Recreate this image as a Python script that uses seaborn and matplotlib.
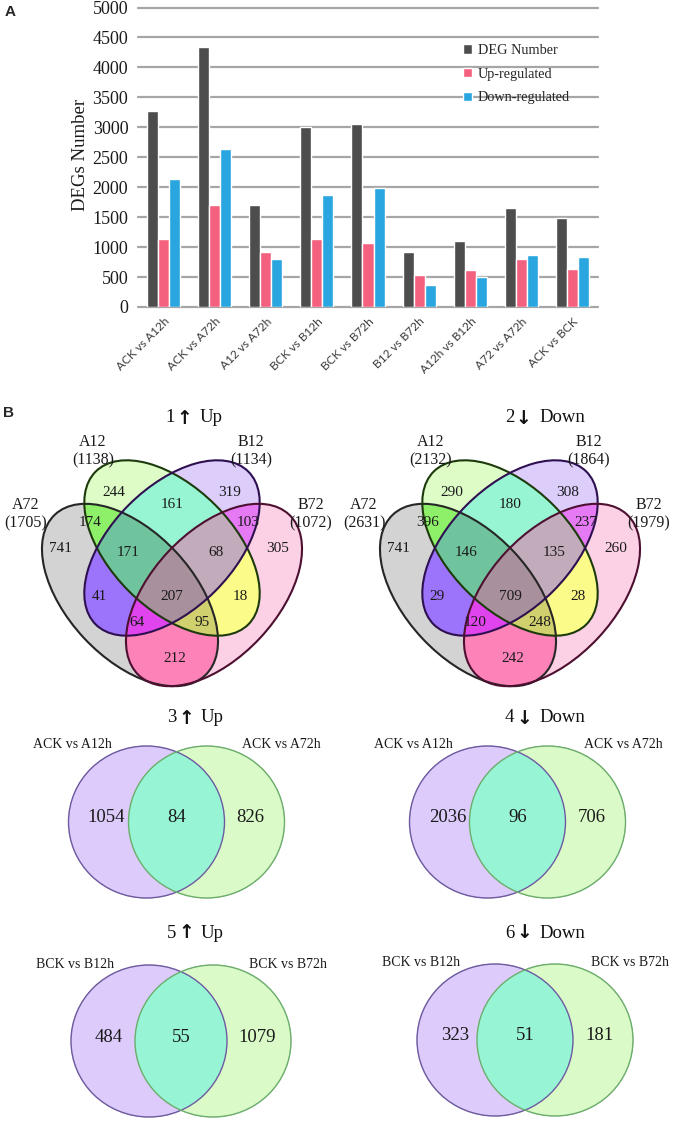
import numpy as np
import pandas as pd
import matplotlib
matplotlib.use('Agg')
import matplotlib.pyplot as plt
from matplotlib.patches import Ellipse
from matplotlib.colors import to_rgba
from matplotlib.transforms import ScaledTranslation
import seaborn as sns

# ---------------- panel A data ----------------
comparisons = ['ACK vs A12h', 'ACK vs A72h', 'A12 vs A72h', 'BCK vs B12h', 'BCK vs B72h',
               'B12 vs B72h', 'A12h vs B12h', 'A72 vs A72h', 'ACK vs BCK']
deg_number = [3270, 4336, 1700, 2998, 3051, 910, 1110, 1660, 1480]
up_regulated = [1138, 1705, 910, 1134, 1072, 540, 620, 800, 630]
down_regulated = [2132, 2631, 800, 1864, 1979, 370, 500, 860, 840]
series_names = ['DEG Number', 'Up-regulated', 'Down-regulated']
series_colors = ['#4d4d4d', '#f3617f', '#29a6df']

# ---------------- panel B data: four-set Venns ----------------
four_sets = ['A72', 'A12', 'B12', 'B72']
up_set_totals = [1705, 1138, 1134, 1072]
down_set_totals = [2631, 2132, 1864, 1979]
# membership of each region in (A72, A12, B12, B72)
regions = [(1, 0, 0, 0), (0, 1, 0, 0), (0, 0, 1, 0), (0, 0, 0, 1),
           (1, 1, 0, 0), (0, 1, 1, 0), (0, 0, 1, 1),
           (1, 1, 1, 0), (0, 1, 1, 1),
           (1, 0, 1, 0), (1, 1, 1, 1), (0, 1, 0, 1),
           (1, 0, 1, 1), (1, 1, 0, 1), (1, 0, 0, 1)]
up_counts = [741, 244, 319, 305, 174, 161, 103, 171, 68, 41, 207, 18, 64, 95, 212]
down_counts = [741, 290, 308, 260, 396, 180, 237, 146, 135, 29, 709, 28, 120, 248, 242]

# ---------------- panel B data: two-set Venns ----------------
pair_numbers = ['3', '4', '5', '6']
pair_dirs = ['Up', 'Down', 'Up', 'Down']
pair_left = ['ACK vs A12h', 'ACK vs A12h', 'BCK vs B12h', 'BCK vs B12h']
pair_right = ['ACK vs A72h', 'ACK vs A72h', 'BCK vs B72h', 'BCK vs B72h']
pair_only_left = [1054, 2036, 484, 323]
pair_shared = [84, 96, 55, 51]
pair_only_right = [826, 706, 1079, 181]

# ---------------- layout / style ----------------
W, H = 675, 1121
serif = ['Liberation Serif', 'DejaVu Serif']
region_colors = {
    (1, 0, 0, 0): '#d4d4d4', (0, 1, 0, 0): '#ddfcc6', (0, 0, 1, 0): '#dccdfb', (0, 0, 0, 1): '#fdd2e6',
    (1, 1, 0, 0): '#8ef06a', (0, 1, 1, 0): '#98f5d4', (0, 0, 1, 1): '#e57af4',
    (1, 1, 1, 0): '#70c49d', (0, 1, 1, 1): '#c2abbb',
    (1, 0, 1, 0): '#9c74fb', (1, 1, 1, 1): '#a8919c', (0, 1, 0, 1): '#fbfb8a',
    (1, 0, 1, 1): '#e044ee', (1, 1, 0, 1): '#d2d06e', (1, 0, 0, 1): '#fd82b9',
}
# ellipse shapes relative to the venn centre: dx, dy, semi-axis a, semi-axis b, angle
quad_shapes = [(-42, 47, 110, 63, 47), (0, 0, 108, 61, 45), (0, 0, 108, 61, -45), (42, 47, 110, 63, -47)]
quad_edges = ['#262626', '#1d3a0c', '#2e1050', '#4d1030']
region_offsets = [(-112, 0), (-58, -55), (58, -55), (106, 0),
                  (-82, -26), (0, -43), (76, -26),
                  (-44, 4), (44, 4),
                  (-73, 48), (0, 48), (68, 48),
                  (-35, 74), (30, 74), (3, 110)]
set_label_dx = [-146, -79, 79, 139]
set_label_dy = [-43, -106, -106, -43]
quad_centres = [(172, 548), (510, 548)]

pair_centres = [((146.5, 822), (206.5, 822)), ((487.5, 822), (547.5, 822)),
                ((149, 1041), (213, 1041)), ((495, 1040), (555, 1040))]
pair_w, pair_h = 156, 152
pair_colors = {(1, 0): '#dccbfb', (0, 1): '#dafbc9', (1, 1): '#97f5d6'}
pair_edges = ['#6e5aa0', '#6cae6c']

sns.set_theme(style='white')
plt.rcParams['font.family'] = serif

fig = plt.figure(figsize=(W / 100, H / 100), dpi=100)


def px_axes(l, t, r, b):
    return fig.add_axes([l / W, 1 - b / H, (r - l) / W, (b - t) / H])


# ---------------- panel A: bar chart ----------------
ax = px_axes(138, 7.5, 598, 307)
df = pd.DataFrame({
    'comparison': comparisons * 3,
    'count': deg_number + up_regulated + down_regulated,
    'type': [n for n in series_names for _ in comparisons],
})
sns.barplot(data=df, x='comparison', y='count', hue='type', palette=series_colors,
            width=0.65, saturation=1, ax=ax, zorder=2)
ax.set_ylim(0, 5000)
ax.set_yticks(range(0, 5001, 500))
ax.yaxis.grid(True, color='#a6a6a6', lw=1.6)
for gl in ax.get_ygridlines():
    gl.set_clip_on(False)
ax.set_axisbelow(True)
for s in ax.spines.values():
    s.set_visible(False)
ax.set_xlabel('')
ax.set_ylabel('DEGs Number', fontsize=13.5, color='#1a1a1a')
ax.yaxis.set_label_coords(-0.1065, 0.507)
ax.tick_params(axis='y', length=0, pad=7, labelsize=13, labelcolor='#1a1a1a')
ax.set_xticks(range(len(comparisons)))
ax.set_xticklabels(comparisons, rotation=45, ha='right', va='center', rotation_mode='anchor',
                   fontsize=8.6, family=['Lato', 'DejaVu Sans'], color='#3a3a3a')
ax.tick_params(axis='x', length=0, pad=9)
for lab in ax.get_xticklabels():
    lab.set_transform(lab.get_transform() + ScaledTranslation(4 / 100, 0, fig.dpi_scale_trans))
h, l = ax.get_legend_handles_labels()
ax.legend(h, l, loc='upper left', bbox_to_anchor=((463 - 138) / 460, (307 - 44) / 299.5),
          frameon=False, fontsize=10.3, handlelength=0.65, handleheight=0.65,
          handletextpad=0.4, labelspacing=0.75, borderpad=0, borderaxespad=0)

# ---------------- panel B: venn diagrams ----------------
ov = fig.add_axes([0, 0, 1, 1])
ov.patch.set_alpha(0)

top = 400
xs = np.arange(0, W, 0.5) + 0.25
ys = np.arange(top, H, 0.5) + 0.25
X, Y = np.meshgrid(xs, ys)
rgba = np.zeros(X.shape + (4,))


def inside(cx, cy, a, b, ang):
    t = np.deg2rad(ang)
    dx, dy = X - cx, Y - cy
    u = dx * np.cos(t) + dy * np.sin(t)
    v = -dx * np.sin(t) + dy * np.cos(t)
    return (u / a) ** 2 + (v / b) ** 2 <= 1


for cx, cy in quad_centres:
    masks = [inside(cx + dx, cy + dy, a, b, ang) for dx, dy, a, b, ang in quad_shapes]
    for key, col in region_colors.items():
        sel = np.ones(X.shape, bool)
        for m, k in zip(masks, key):
            sel &= m if k else ~m
        rgba[sel] = to_rgba(col)

for (lc, rc) in pair_centres:
    ml = inside(lc[0], lc[1], pair_w / 2, pair_h / 2, 0)
    mr = inside(rc[0], rc[1], pair_w / 2, pair_h / 2, 0)
    for key, col in pair_colors.items():
        sel = (ml if key[0] else ~ml) & (mr if key[1] else ~mr)
        rgba[sel] = to_rgba(col)

ov.imshow(rgba, extent=(0, W, H, top), origin='upper', interpolation='antialiased', zorder=1)
ov.set_xlim(0, W)
ov.set_ylim(H, 0)
ov.set_aspect('auto')
ov.axis('off')

# four-set outlines and labels
quad_titles = [('1', '\u2191', 'Up', up_counts, up_set_totals),
               ('2', '\u2193', 'Down', down_counts, down_set_totals)]
title_arrow_x = [184, 523]
for i, ((cx, cy), (num, arrow, word, counts, totals)) in enumerate(zip(quad_centres, quad_titles)):
    for (dx, dy, a, b, ang), ec in zip(quad_shapes, quad_edges):
        ov.add_patch(Ellipse((cx + dx, cy + dy), 2 * a, 2 * b, angle=ang, fill=False,
                             edgecolor=ec, lw=1.5, zorder=3))
    for (ox, oy), c in zip(region_offsets, counts):
        ov.text(cx + ox, cy + oy, str(c), ha='center', va='center', fontsize=11, color='#1a1a1a', zorder=4)
    for name, tot, dx, dy in zip(four_sets, totals, set_label_dx, set_label_dy):
        ov.text(cx + dx, cy + dy, name, ha='center', va='center', fontsize=11.5, color='#1a1a1a', zorder=4)
        ov.text(cx + dx, cy + dy + 18, f'({tot})', ha='center', va='center', fontsize=11.5,
                color='#1a1a1a', zorder=4)
    axx = title_arrow_x[i]
    ov.text(axx - 9, 418, num, ha='right', va='center', fontsize=13.5, color='#111111')
    ov.text(axx, 418, arrow, ha='center', va='center', fontsize=13.5, family=['DejaVu Sans'],
            weight='bold', color='#111111')
    ov.text(axx + 16, 418, word, ha='left', va='center', fontsize=13.5, color='#111111')

# two-set outlines and labels
pair_title_y = [718, 718, 933, 933]
pair_arrow_x = [186, 524, 186, 524]
for i, ((lc, rc), ty) in enumerate(zip(pair_centres, pair_title_y)):
    for c, ec in zip((lc, rc), pair_edges):
        ov.add_patch(Ellipse(c, pair_w, pair_h, fill=False, edgecolor=ec, lw=1, zorder=3))
    cy = lc[1]
    ov.text(lc[0] - 35, cy - 77, pair_left[i], ha='right', va='center', fontsize=10, color='#1a1a1a')
    ov.text(rc[0] + 36, cy - 77, pair_right[i], ha='left', va='center', fontsize=10, color='#1a1a1a')
    ov.text(lc[0] - 40, cy - 4, str(pair_only_left[i]), ha='center', va='center', fontsize=13.5,
            color='#1a1a1a')
    ov.text((lc[0] + rc[0]) / 2, cy - 4, str(pair_shared[i]), ha='center', va='center', fontsize=13.5,
            color='#1a1a1a')
    ov.text(rc[0] + 44, cy - 4, str(pair_only_right[i]), ha='center', va='center', fontsize=13.5,
            color='#1a1a1a')
    axx = pair_arrow_x[i]
    arrow = '\u2191' if pair_dirs[i] == 'Up' else '\u2193'
    ov.text(axx - 10, ty, pair_numbers[i], ha='right', va='center', fontsize=13.5, color='#111111')
    ov.text(axx, ty, arrow, ha='center', va='center', fontsize=13.5, family=['DejaVu Sans'],
            weight='bold', color='#111111')
    ov.text(axx + 15, ty, pair_dirs[i], ha='left', va='center', fontsize=13.5, color='#111111')

# panel letters
ov.text(10, 12.5, 'A', ha='center', va='center', fontsize=11, weight='bold',
        family=['Liberation Sans', 'DejaVu Sans'])
ov.text(9, 413, 'B', ha='center', va='center', fontsize=11, weight='bold',
        family=['Liberation Sans', 'DejaVu Sans'])

fig.savefig('out.png', dpi=100)
